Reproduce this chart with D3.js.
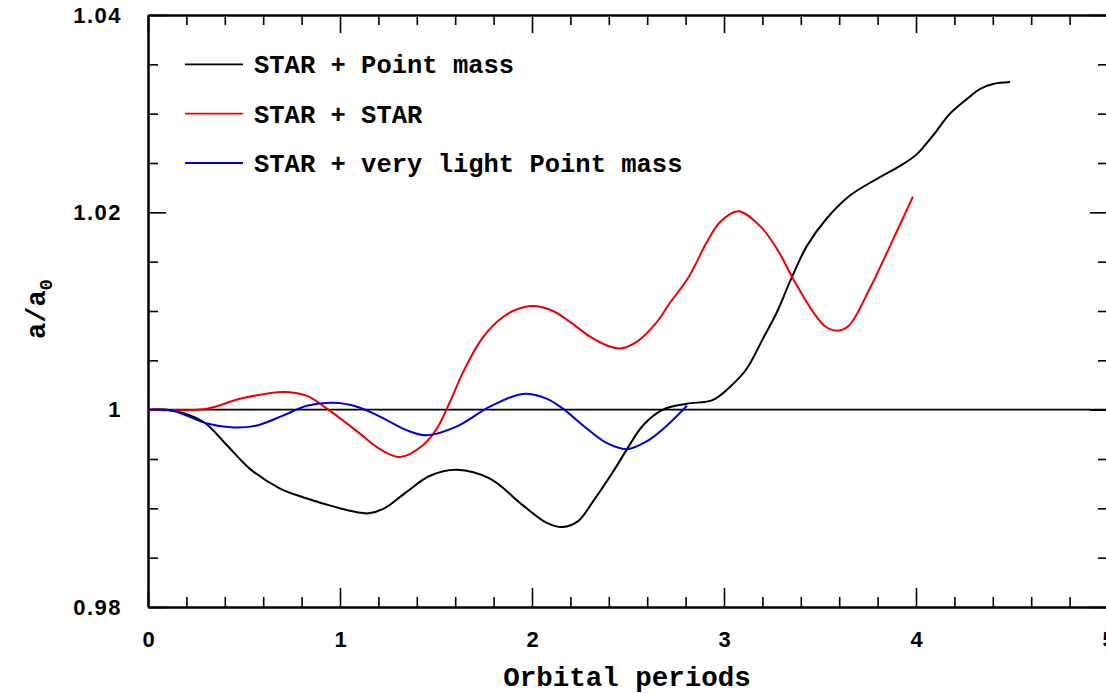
<!DOCTYPE html>
<html>
<head>
<meta charset="utf-8">
<script src="https://cdn.jsdelivr.net/npm/d3@7"></script>
<style>
  body { margin: 0; background: #fff; }
  svg { display: block; }
</style>
</head>
<body>
<div id="chart"></div>
<script>
// values: [orbital periods, a/a0]
const pointMass = [
  [0, 1.0000], [0.130, 0.9999], [0.286, 0.9988], [0.411, 0.9964], [0.531, 0.9940],
  [0.688, 0.9920], [0.828, 0.9910], [0.964, 0.9902], [1.089, 0.9896], [1.150, 0.9895],
  [1.230, 0.9900], [1.349, 0.9917], [1.469, 0.9933], [1.609, 0.9939], [1.781, 0.9930],
  [1.953, 0.9903], [2.080, 0.9885], [2.160, 0.9881], [2.240, 0.9887], [2.318, 0.9907],
  [2.422, 0.9937], [2.495, 0.9960], [2.578, 0.9984], [2.682, 1.0000], [2.807, 1.0006],
  [2.943, 1.0010], [3.047, 1.0026], [3.120, 1.0042], [3.203, 1.0072], [3.276, 1.0099],
  [3.344, 1.0130], [3.432, 1.0166], [3.536, 1.0194], [3.656, 1.0217], [3.797, 1.0234],
  [3.917, 1.0247], [4.005, 1.0259], [4.089, 1.0278], [4.177, 1.0300], [4.266, 1.0315],
  [4.333, 1.0325], [4.401, 1.0330], [4.490, 1.0332]
];
const starStar = [
  [0, 1.0000], [0.307, 1.0001], [0.479, 1.0011], [0.703, 1.0018], [0.828, 1.0014],
  [0.932, 1.0001], [1.089, 0.9978], [1.208, 0.9960], [1.313, 0.9952], [1.432, 0.9964],
  [1.505, 0.9981], [1.573, 1.0008], [1.641, 1.0038], [1.729, 1.0069], [1.818, 1.0089],
  [1.901, 1.0100], [2.005, 1.0105], [2.109, 1.0100], [2.198, 1.0089], [2.302, 1.0074],
  [2.391, 1.0065], [2.458, 1.0062], [2.547, 1.0069], [2.651, 1.0089], [2.714, 1.0107],
  [2.818, 1.0135], [2.911, 1.0170], [2.979, 1.0190], [3.073, 1.0201], [3.188, 1.0186],
  [3.276, 1.0163], [3.359, 1.0133], [3.464, 1.0099], [3.530, 1.0084], [3.590, 1.0080],
  [3.650, 1.0085], [3.760, 1.0123], [3.865, 1.0166], [3.932, 1.0194], [3.984, 1.0216]
];
const lightPointMass = [
  [0, 1.0000], [0.130, 0.9999], [0.307, 0.9986], [0.443, 0.9982], [0.568, 0.9984],
  [0.703, 0.9994], [0.828, 1.0004], [0.964, 1.0007], [1.089, 1.0003], [1.208, 0.9993],
  [1.349, 0.9979], [1.453, 0.9974], [1.609, 0.9983], [1.781, 1.0003], [1.953, 1.0016],
  [2.078, 1.0011], [2.161, 1.0001], [2.266, 0.9984], [2.391, 0.9966], [2.495, 0.9960],
  [2.599, 0.9968], [2.703, 0.9984], [2.807, 1.0004]
];
const seriesNames = ["STAR + Point mass", "STAR + STAR", "STAR + very light Point mass"];
const seriesColors = ["#000000", "#ee0000", "#0000d0"];
const xMajor = [0, 1, 2, 3, 4, 5];
const yMajor = [0.98, 1.00, 1.02, 1.04];
const yLabels = ["0.98", "1", "1.02", "1.04"];

const W = 1106, H = 693;
const x = d3.scaleLinear().domain([0, 5]).range([148, 1108]);
const y = d3.scaleLinear().domain([0.98, 1.04]).range([607, 15]);

const svg = d3.select("#chart").append("svg")
  .attr("width", W).attr("height", H)
  .style("background", "#fff");

const xMinor = d3.range(0, 5.0001, 0.2).filter(v => Math.abs(v - Math.round(v)) > 1e-6);
const yMinor = d3.range(0.98, 1.04001, 0.005).filter(v => Math.abs(v * 50 - Math.round(v * 50)) > 1e-6);

const numFont = "'Liberation Sans', Arial, sans-serif";
const monoFont = "'Liberation Mono', 'Courier New', monospace";

function styleAxis(g) {
  g.select(".domain").attr("stroke", "#000").attr("stroke-width", 2);
  g.selectAll(".tick line").attr("stroke", "#000").attr("stroke-width", 1.6);
}

// bottom
svg.append("g").attr("transform", "translate(0,607)")
  .call(d3.axisBottom(x).tickValues(xMinor).tickSize(-10).tickSizeOuter(0).tickFormat(""))
  .call(styleAxis);
svg.append("g").attr("transform", "translate(0,607)")
  .call(d3.axisBottom(x).tickValues(xMajor).tickSize(-19).tickSizeOuter(0).tickPadding(24).tickFormat(d3.format("d")))
  .call(styleAxis)
  .call(g => g.selectAll("text").attr("font-family", numFont).attr("font-weight", "bold")
    .attr("font-size", 22).attr("fill", "#000"));
// top
svg.append("g").attr("transform", "translate(0,15)")
  .call(d3.axisTop(x).tickValues(xMinor).tickSize(-10).tickSizeOuter(0).tickFormat(""))
  .call(styleAxis);
svg.append("g").attr("transform", "translate(0,15)")
  .call(d3.axisTop(x).tickValues(xMajor).tickSize(-18).tickSizeOuter(0).tickFormat(""))
  .call(styleAxis);
// left
svg.append("g").attr("transform", "translate(148,0)")
  .call(d3.axisLeft(y).tickValues(yMinor).tickSize(-10).tickSizeOuter(0).tickFormat(""))
  .call(styleAxis);
svg.append("g").attr("transform", "translate(148,0)")
  .call(d3.axisLeft(y).tickValues(yMajor).tickSize(-18).tickSizeOuter(0).tickPadding(26)
    .tickFormat((d, i) => yLabels[i]))
  .call(styleAxis)
  .call(g => g.selectAll("text").attr("font-family", numFont).attr("font-weight", "bold")
    .attr("font-size", 22).attr("letter-spacing", 1.5).attr("fill", "#000"));
// right
svg.append("g").attr("transform", "translate(1108,0)")
  .call(d3.axisRight(y).tickValues(yMinor).tickSize(-10).tickSizeOuter(0).tickFormat(""))
  .call(styleAxis);
svg.append("g").attr("transform", "translate(1108,0)")
  .call(d3.axisRight(y).tickValues(yMajor).tickSize(-18).tickSizeOuter(0).tickFormat(""))
  .call(styleAxis);

// reference line a/a0 = 1
svg.append("line")
  .attr("x1", x(0)).attr("x2", x(5))
  .attr("y1", y(1)).attr("y2", y(1))
  .attr("stroke", "#000").attr("stroke-width", 1.6);

// curves
const line = d3.line()
  .x(d => x(d[0])).y(d => y(d[1]))
  .curve(d3.curveCatmullRom.alpha(0.5));

[pointMass, starStar, lightPointMass].forEach((data, i) => {
  svg.append("path")
    .datum(data)
    .attr("fill", "none")
    .attr("stroke", seriesColors[i])
    .attr("stroke-width", 2)
    .attr("d", line);
});

// legend
const legendRows = [1.035, 1.030, 1.025];
const legend = svg.append("g");
seriesNames.forEach((name, i) => {
  const ly = y(legendRows[i]);
  legend.append("line")
    .attr("x1", 185).attr("x2", 243)
    .attr("y1", ly).attr("y2", ly)
    .attr("stroke", seriesColors[i]).attr("stroke-width", 1.8);
  legend.append("text")
    .attr("x", 254).attr("y", ly + 9)
    .attr("font-family", monoFont).attr("font-weight", "bold")
    .attr("font-size", 25.5).attr("fill", "#000")
    .text(name);
});

// axis titles
svg.append("text")
  .attr("x", 627).attr("y", 686)
  .attr("text-anchor", "middle")
  .attr("font-family", monoFont).attr("font-weight", "bold")
  .attr("font-size", 27.5).attr("fill", "#000")
  .text("Orbital periods");

const yt = svg.append("text")
  .attr("transform", "translate(45,309) rotate(-90)")
  .attr("text-anchor", "middle")
  .attr("font-family", monoFont).attr("font-weight", "bold")
  .attr("font-size", 27).attr("fill", "#000");
yt.append("tspan").text("a/a");
yt.append("tspan").attr("dy", 7).attr("font-size", 19).text("0");
</script>
</body>
</html>
